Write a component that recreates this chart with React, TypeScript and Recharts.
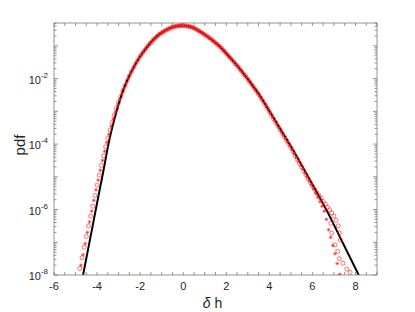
import React from 'react'
import { ComposedChart, Line, Scatter, XAxis, YAxis } from 'recharts'

// black fitted curve: [δh, log10 pdf]
const curve: [number, number][] = [
  [-4.65, -8.0], [-4.3, -6.82], [-4.0, -5.8], [-3.7, -4.8], [-3.45, -3.93], [-3.2, -3.25],
  [-2.79, -2.36], [-2.4, -1.78], [-2.02, -1.34], [-1.7, -1.05], [-1.4, -0.82], [-1.1, -0.64],
  [-0.78, -0.51], [-0.45, -0.42], [-0.1, -0.38], [0.3, -0.41], [0.77, -0.56], [1.2, -0.75],
  [1.7, -1.02], [2.15, -1.34], [2.63, -1.7], [3.1, -2.1], [3.56, -2.52], [4.0, -2.99],
  [4.49, -3.52], [5.1, -4.18], [5.88, -5.09], [6.65, -6.01], [7.42, -7.03], [8.15, -8.0],
]

// red open circles: [δh, log10 pdf]
const circlePts: [number, number][] = [
  [-4.8, -7.8], [-4.7, -7.47], [-4.6, -7.15], [-4.5, -6.82], [-4.4, -6.5], [-4.3, -6.2],
  [-4.2, -5.9], [-4.1, -5.57], [-4.0, -5.25], [-3.9, -4.95], [-3.8, -4.65], [-3.7, -4.36],
  [-3.6, -4.08], [-3.5, -3.82], [-3.4, -3.57], [-3.3, -3.33], [-3.2, -3.12], [-3.1, -2.91],
  [-3.0, -2.72], [-2.9, -2.55], [-2.8, -2.37], [-2.7, -2.22], [-2.6, -2.07], [-2.5, -1.92],
  [-2.4, -1.78], [-2.3, -1.66], [-2.2, -1.54], [-2.1, -1.43], [-2.0, -1.32], [-1.9, -1.23],
  [-1.8, -1.14], [-1.7, -1.05], [-1.6, -0.97], [-1.5, -0.9], [-1.4, -0.82], [-1.3, -0.76],
  [-1.2, -0.7], [-1.1, -0.64], [-1.0, -0.6], [-0.9, -0.56], [-0.8, -0.52], [-0.7, -0.49],
  [-0.6, -0.46], [-0.5, -0.43], [-0.4, -0.41], [-0.3, -0.4], [-0.2, -0.39], [-0.1, -0.38],
  [0, -0.38], [0.1, -0.39], [0.2, -0.4], [0.3, -0.41], [0.4, -0.43], [0.5, -0.46],
  [0.6, -0.49], [0.7, -0.53], [0.8, -0.57], [0.9, -0.61], [1.0, -0.66], [1.1, -0.7],
  [1.2, -0.75], [1.3, -0.8], [1.4, -0.85], [1.5, -0.91], [1.6, -0.96], [1.7, -1.02],
  [1.8, -1.09], [1.9, -1.16], [2.0, -1.23], [2.1, -1.3], [2.2, -1.38], [2.3, -1.45],
  [2.4, -1.53], [2.5, -1.6], [2.6, -1.68], [2.7, -1.76], [2.8, -1.85], [2.9, -1.93],
  [3.0, -2.02], [3.1, -2.11], [3.2, -2.2], [3.3, -2.29], [3.4, -2.38], [3.5, -2.48],
  [3.6, -2.58], [3.7, -2.68], [3.8, -2.79], [3.9, -2.9], [4.0, -3.01], [4.1, -3.12],
  [4.2, -3.23], [4.3, -3.34], [4.4, -3.45], [4.5, -3.56], [4.6, -3.67], [4.7, -3.78],
  [4.8, -3.89], [4.9, -4.0], [5.0, -4.11], [5.1, -4.23], [5.2, -4.35], [5.3, -4.47],
  [5.4, -4.58], [5.5, -4.7], [5.6, -4.82], [5.7, -4.94], [5.8, -5.05], [5.9, -5.17],
  [6.0, -5.28], [6.1, -5.38], [6.2, -5.48], [6.3, -5.57], [6.4, -5.65], [6.5, -5.75],
  [6.6, -5.84], [6.7, -5.93], [6.8, -6.01], [6.9, -6.1], [7.0, -6.2], [7.1, -6.33],
  [7.2, -6.5], [7.25, -6.72], [7.3, -6.93],
  [6.85, -6.42], [6.9, -6.72], [7.05, -7.08], [7.18, -7.28], [7.25, -7.5], [7.42, -7.64],
  [7.6, -7.82], [7.75, -7.92],
]

// red asterisks: [δh, log10 pdf]
const starPts: [number, number][] = [
  [-4.75, -7.7], [-4.65, -7.38], [-4.55, -7.04], [-4.45, -6.7], [-4.35, -6.38], [-4.25, -6.05],
  [-4.15, -5.72], [-4.05, -5.4], [-3.95, -5.1], [-3.85, -4.8], [-3.75, -4.5], [-3.65, -4.22],
  [-3.55, -3.95], [-3.45, -3.7], [-3.35, -3.45], [-3.25, -3.23], [-3.15, -3.02], [-3.05, -2.82],
  [-2.95, -2.63], [-2.85, -2.46], [-2.75, -2.3], [-2.65, -2.15], [-2.55, -2.0], [-2.45, -1.85],
  [-2.35, -1.72], [-2.25, -1.6], [-2.15, -1.49], [-2.05, -1.37], [-1.95, -1.28], [-1.85, -1.18],
  [-1.75, -1.1], [-1.65, -1.01], [-1.55, -0.93], [-1.45, -0.86], [-1.35, -0.79], [-1.25, -0.73],
  [-1.15, -0.67], [-1.05, -0.62], [-0.95, -0.58], [-0.85, -0.54], [-0.75, -0.5], [-0.65, -0.47],
  [-0.55, -0.44], [-0.45, -0.42], [-0.35, -0.4], [-0.25, -0.39], [-0.15, -0.38], [-0.05, -0.38],
  [0.05, -0.38], [0.15, -0.39], [0.25, -0.4], [0.35, -0.42], [0.45, -0.44], [0.55, -0.47],
  [0.65, -0.51], [0.75, -0.55], [0.85, -0.59], [0.95, -0.63], [1.05, -0.68], [1.15, -0.72],
  [1.25, -0.77], [1.35, -0.82], [1.45, -0.88], [1.55, -0.93], [1.65, -0.99], [1.75, -1.05],
  [1.85, -1.12], [1.95, -1.19], [2.05, -1.26], [2.15, -1.34], [2.25, -1.41], [2.35, -1.49],
  [2.45, -1.56], [2.55, -1.64], [2.65, -1.72], [2.75, -1.8], [2.85, -1.89], [2.95, -1.97],
  [3.05, -2.06], [3.15, -2.15], [3.25, -2.24], [3.35, -2.33], [3.45, -2.43], [3.55, -2.53],
  [3.65, -2.63], [3.75, -2.73], [3.85, -2.84], [3.95, -2.95], [4.05, -3.06], [4.15, -3.17],
  [4.25, -3.28], [4.35, -3.39], [4.45, -3.5], [4.55, -3.61], [4.65, -3.72], [4.75, -3.83],
  [4.85, -3.94], [4.95, -4.05], [5.05, -4.17], [5.15, -4.29], [5.25, -4.41], [5.35, -4.52],
  [5.45, -4.64], [5.55, -4.76], [5.65, -4.88], [5.75, -5.0], [5.85, -5.12], [5.95, -5.24],
  [6.05, -5.36], [6.15, -5.5], [6.25, -5.63], [6.35, -5.76], [6.45, -5.9], [6.55, -6.05],
  [6.65, -6.3], [6.75, -6.62], [6.85, -6.85], [6.95, -7.1], [7.05, -7.35], [7.15, -7.65],
  [7.27, -7.98],
]

const xTicks = [-6, -5.5, -5, -4.5, -4, -3.5, -3, -2.5, -2, -1.5, -1, -0.5, 0, 0.5, 1, 1.5, 2, 2.5, 3, 3.5, 4, 4.5, 5, 5.5, 6, 6.5, 7, 7.5, 8, 8.5, 9]
const xLabelled = [-6, -4, -2, 0, 2, 4, 6, 8]
const yLabelledExp = [-8, -6, -4, -2]

const Y_MIN = 1e-8
const Y_MAX = 0.5

const AXIS = '#7a7a7a'
const TEXT = '#262626'
const RED = '#ff1a1a'
const FONT = '"Liberation Sans", Arial, Helvetica, sans-serif'

// log ticks: every m * 10^k inside the domain
const yTicks: number[] = []
for (let k = -8; k <= -1; k++) {
  for (let m = 1; m <= 9; m++) {
    const v = m * Math.pow(10, k)
    if (v <= Y_MAX + 1e-12) yTicks.push(v)
  }
}

const toRows = (pts: [number, number][]) => pts.map(([x, lg]) => ({ x, y: Math.pow(10, lg) }))
const curveData = toRows(curve)
const circleData = toRows(circlePts)
const starData = toRows(starPts)

const decadeOf = (v: number) => {
  const lg = Math.log10(v)
  return Math.abs(lg - Math.round(lg)) < 1e-6 ? Math.round(lg) : null
}

function BottomTick({ x, y, payload }: any) {
  const v = payload.value
  return (
    <g>
      <line x1={x} x2={x} y1={y} y2={y - 3} stroke={AXIS} strokeWidth={0.8} />
      {xLabelled.includes(v) && (
        <text x={x} y={y + 15} textAnchor="middle" fontSize={11} fill={TEXT} fontFamily={FONT}>
          {v}
        </text>
      )}
    </g>
  )
}

function TopTick({ x, y }: any) {
  return <line x1={x} x2={x} y1={y} y2={y + 3} stroke={AXIS} strokeWidth={0.8} />
}

function LeftTick({ x, y, payload }: any) {
  const d = decadeOf(payload.value)
  const len = d == null ? 2.5 : 4
  return (
    <g>
      <line x1={x} x2={x + len} y1={y} y2={y} stroke={AXIS} strokeWidth={0.8} />
      {d != null && yLabelledExp.includes(d) && (
        <text x={x - 6} y={y + 5} textAnchor="end" fontSize={11} fill={TEXT} fontFamily={FONT}>
          <tspan>10</tspan>
          <tspan dy={-6} fontSize={8}>{String(d)}</tspan>
        </text>
      )}
    </g>
  )
}

function RightTick({ x, y, payload }: any) {
  const len = decadeOf(payload.value) == null ? 2.5 : 4
  return <line x1={x} x2={x - len} y1={y} y2={y} stroke={AXIS} strokeWidth={0.8} />
}

function XTitle({ viewBox }: any) {
  const cx = viewBox.x + viewBox.width / 2 - 3
  return (
    <text x={cx} y={viewBox.y + 33} textAnchor="middle" fontSize={14} fill={TEXT} fontFamily={FONT}>
      <tspan fontStyle="italic">δ</tspan>
      {' h'}
    </text>
  )
}

function YTitle({ viewBox }: any) {
  const cx = viewBox.x + 19
  const cy = viewBox.y + viewBox.height / 2 - 4
  return (
    <text
      x={cx}
      y={cy}
      transform={`rotate(-90 ${cx} ${cy})`}
      textAnchor="middle"
      dominantBaseline="central"
      fontSize={15}
      fill={TEXT}
      fontFamily={FONT}
    >
      pdf
    </text>
  )
}

const CircleMark = (p: any) => (
  <circle cx={p.cx} cy={p.cy} r={2} fill="none" stroke={RED} strokeWidth={0.6} />
)

const StarMark = (p: any) => {
  const s = 1.8
  const d = 1.3
  return (
    <g stroke={RED} strokeWidth={0.6}>
      <line x1={p.cx - s} x2={p.cx + s} y1={p.cy} y2={p.cy} />
      <line x1={p.cx} x2={p.cx} y1={p.cy - s} y2={p.cy + s} />
      <line x1={p.cx - d} x2={p.cx + d} y1={p.cy - d} y2={p.cy + d} />
      <line x1={p.cx - d} x2={p.cx + d} y1={p.cy + d} y2={p.cy - d} />
    </g>
  )
}

export default function App() {
  return (
    <div style={{ position: 'absolute', left: 0, top: 0, width: 415, height: 312, background: '#fff' }}>
      <ComposedChart width={415} height={312} margin={{ top: 22, right: 37, bottom: 0, left: 0 }}>
        <XAxis
          xAxisId="b"
          dataKey="x"
          type="number"
          domain={[-6, 9]}
          ticks={xTicks}
          interval={0}
          allowDataOverflow
          height={37}
          tickSize={0}
          tickMargin={0}
          tickLine={false}
          axisLine={{ stroke: AXIS, strokeWidth: 0.8 }}
          tick={<BottomTick />}
          label={<XTitle />}
        />
        <XAxis
          xAxisId="t"
          dataKey="x"
          type="number"
          orientation="top"
          domain={[-6, 9]}
          ticks={xTicks}
          interval={0}
          allowDataOverflow
          height={1}
          tickSize={0}
          tickMargin={0}
          tickLine={false}
          axisLine={{ stroke: AXIS, strokeWidth: 0.8 }}
          tick={<TopTick />}
        />
        <YAxis
          yAxisId="l"
          type="number"
          scale="log"
          domain={[Y_MIN, Y_MAX]}
          ticks={yTicks}
          interval={0}
          allowDataOverflow
          width={54}
          tickSize={0}
          tickMargin={0}
          tickLine={false}
          axisLine={{ stroke: AXIS, strokeWidth: 0.8 }}
          tick={<LeftTick />}
          label={<YTitle />}
        />
        <YAxis
          yAxisId="r"
          orientation="right"
          type="number"
          scale="log"
          domain={[Y_MIN, Y_MAX]}
          ticks={yTicks}
          interval={0}
          allowDataOverflow
          width={1}
          tickSize={0}
          tickMargin={0}
          tickLine={false}
          axisLine={{ stroke: AXIS, strokeWidth: 0.8 }}
          tick={<RightTick />}
        />
        <Scatter
          xAxisId="b"
          yAxisId="l"
          data={circleData}
          dataKey="y"
          shape={CircleMark}
          isAnimationActive={false}
        />
        <Scatter
          xAxisId="b"
          yAxisId="l"
          data={starData}
          dataKey="y"
          shape={StarMark}
          isAnimationActive={false}
        />
        <Line
          xAxisId="b"
          yAxisId="l"
          data={curveData}
          dataKey="y"
          type="monotone"
          stroke="#000"
          strokeWidth={2}
          dot={false}
          activeDot={false}
          isAnimationActive={false}
        />
      </ComposedChart>
    </div>
  )
}
